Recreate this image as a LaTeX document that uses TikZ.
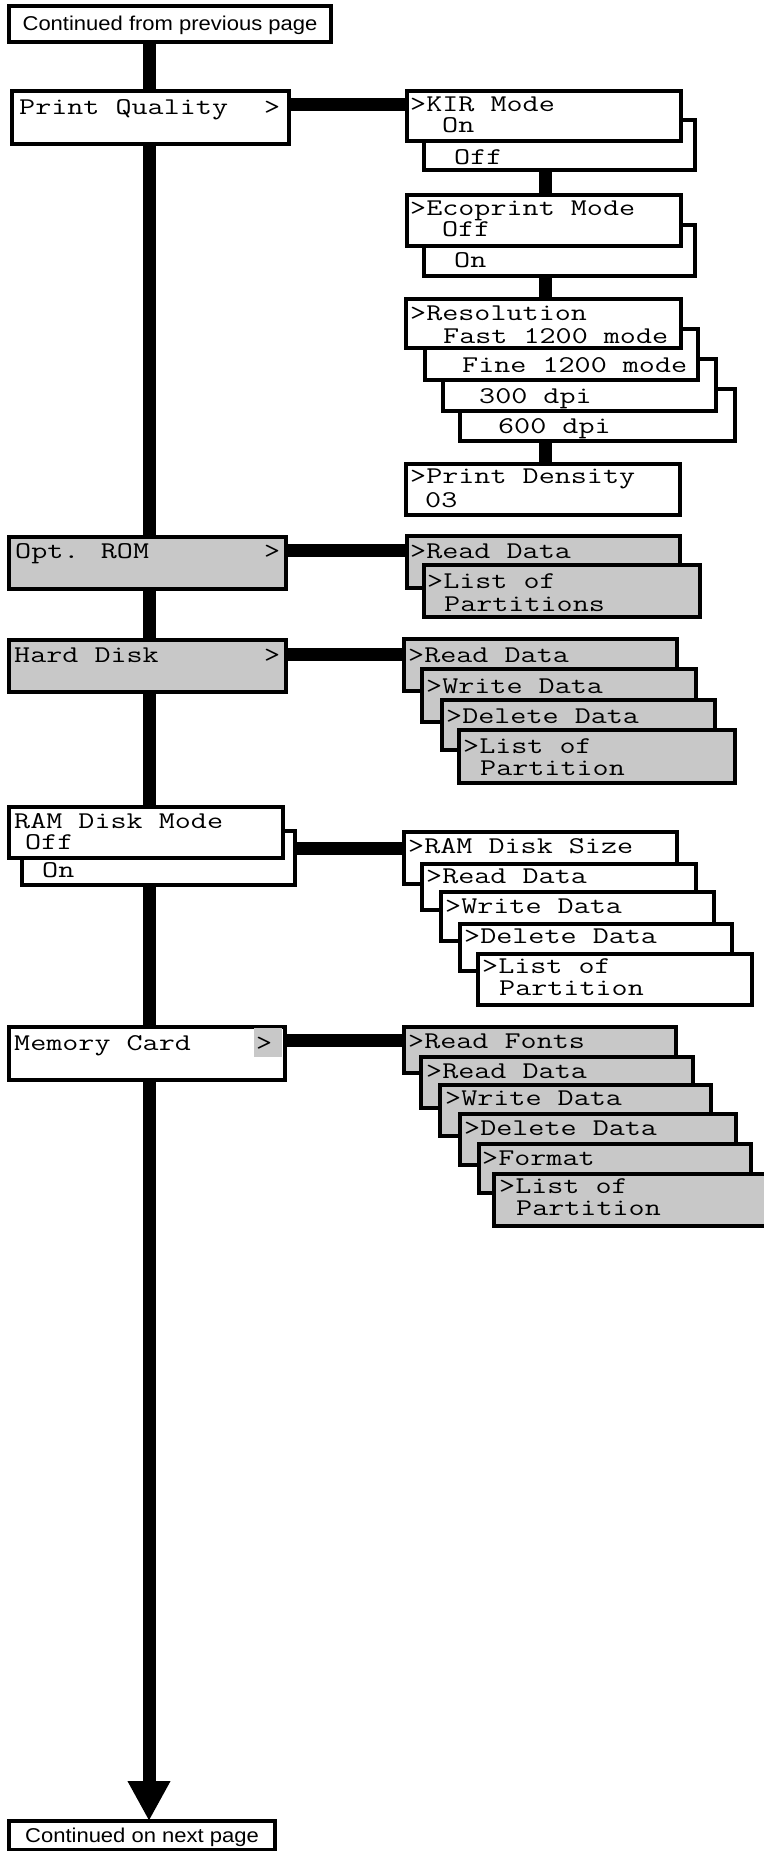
\documentclass[tikz,border=0pt]{standalone}
\usepackage{fontspec}
\usepackage{graphicx}
\usetikzlibrary{arrows.meta}
\newfontfamily\capfont[FakeStretch=1.1]{Liberation Sans}
\definecolor{menugray}{RGB}{200,200,200}
\pgfdeclarelayer{bg}
\pgfsetlayers{bg,main}
\newcommand\mkbox[6]{\node[#6, minimum width={#4-#2-4}, minimum height={#5-#3-4}] (#1) at ({(#2+#4)/2},{(#3+#5)/2}) {};}
\newcommand\mktext[4]{\node[lcd] (#1) at (#2,#3) {\scalebox{1.3}[1]{#4}};}
\newcommand\lcdfont{\ttfamily\fontsize{24}{24}\selectfont}
\begin{document}
\begin{tikzpicture}[x=1pt,y=-1pt,
  bx/.style={draw, line width=4.5pt, fill=white, inner sep=0pt, outer sep=0pt},
  optbx/.style={bx, line width=3.5pt},
  gbx/.style={bx, fill=menugray},
  lcd/.style={anchor=base west, inner sep=0pt, font=\lcdfont},
  captxt/.style={anchor=base, inner sep=0pt, font=\capfont\fontsize{20}{24}\selectfont},
  bar/.style={line width=13pt},
  mainline/.style={line width=13pt, -{Triangle[width=40pt,length=40pt]}}
  ]
\useasboundingbox (0,0) rectangle (763,1851);
% ---------- left column
\mkbox{top}{7}{4}{333}{44}{bx}
\mkbox{bot}{7}{1819}{277}{1852}{bx}
\mkbox{pq}{10}{89}{291}{146}{bx}
\mkbox{rom}{7}{535}{288}{591}{gbx}
\mkbox{hd}{7}{638}{288}{694}{gbx}
\mkbox{ramon}{20}{829}{297}{887}{optbx}
\mkbox{ram}{7}{805}{285}{860}{bx}
\mkbox{mc}{7}{1025}{287}{1082}{bx}
\node[fill=menugray, inner sep=0pt, minimum width=28, minimum height=29] (mcpatch) at (268,1042.5) {};
% ---------- Print Quality stack
\mkbox{kiroff}{422}{118}{697}{172}{optbx}
\mkbox{kir}{405}{89}{683}{143}{bx}
\mkbox{ecoon}{422}{223}{697}{278}{optbx}
\mkbox{eco}{405}{193}{683}{248}{bx}
\mkbox{resg}{458}{387}{737}{443}{optbx}
\mkbox{resd}{441}{357}{718}{413}{optbx}
\mkbox{resfine}{423}{327}{700}{382}{optbx}
\mkbox{res}{404}{297}{683}{350}{bx}
\mkbox{dens}{404}{462}{682}{517}{bx}
% ---------- Opt ROM stack
\mkbox{romrd}{405}{534}{682}{590}{gbx}
\mkbox{romlp}{422}{563}{702}{619}{gbx}
% ---------- Hard Disk stack
\mkbox{hdrd}{402}{637}{679}{693}{gbx}
\mkbox{hdwd}{420}{667}{698}{724}{gbx}
\mkbox{hddd}{440}{698}{717}{752}{gbx}
\mkbox{hdlp}{457}{728}{737}{785}{gbx}
% ---------- RAM Disk stack
\mkbox{ramsz}{402}{830}{679}{886}{bx}
\mkbox{ramrd}{420}{862}{698}{912}{bx}
\mkbox{ramwd}{439}{890}{716}{943}{bx}
\mkbox{ramdd}{458}{922}{734}{973}{bx}
\mkbox{ramlp}{476}{952}{754}{1007}{bx}
% ---------- Memory Card stack
\mkbox{mcrf}{402}{1025}{678}{1075}{gbx}
\mkbox{mcrd}{419}{1055}{695}{1110}{gbx}
\mkbox{mcwd}{438}{1083}{713}{1138}{gbx}
\mkbox{mcdd}{458}{1112}{738}{1167}{gbx}
\mkbox{mcfm}{477}{1142}{753}{1195}{gbx}
\mkbox{mclp}{492}{1172}{778}{1228}{gbx}
% ---------- texts
\node[captxt] (toptx) at (170,31) {Continued from previous page};
\node[captxt] (bottx) at (142,1842) {Continued on next page};
\mktext{pqa}{19}{115}{Print Quality}
\mktext{pqb}{264}{115}{>}
\mktext{roma}{15}{558}{Opt. ROM}
\mktext{romb}{264}{558}{>}
\mktext{hda}{14}{662}{Hard Disk}
\mktext{hdb}{264}{662}{>}
\mktext{rama}{14}{828}{RAM Disk Mode}
\mktext{ramb}{25}{849}{Off}
\mktext{ramc}{42}{877}{On}
\mktext{mca}{14}{1050}{Memory Card}
\mktext{mcb}{256}{1050}{>}
%
\mktext{kira}{410}{112}{>KIR Mode}
\mktext{kirb}{442}{133}{On}
\mktext{kirc}{454}{165}{Off}
\mktext{ecoa}{410}{216}{>Ecoprint Mode}
\mktext{ecob}{442}{237}{Off}
\mktext{ecoc}{454}{268}{On}
\mktext{resa}{410}{320}{>Resolution}
\mktext{resb}{443}{343}{Fast 1200 mode}
\mktext{resc}{462}{372}{Fine 1200 mode}
\mktext{resdt}{479}{403}{300 dpi}
\mktext{reset}{498}{433}{600 dpi}
\mktext{densa}{410}{483}{>Print Density}
\mktext{densb}{425}{507}{03}
%
\mktext{romrdt}{410}{558}{>Read Data}
\mktext{romlpa}{427}{588}{>List of}
\mktext{romlpb}{444}{611}{Partitions}
%
\mktext{hdrdt}{408}{662}{>Read Data}
\mktext{hdwdt}{426}{693}{>Write Data}
\mktext{hdddt}{446}{723}{>Delete Data}
\mktext{hdlpa}{463}{753}{>List of}
\mktext{hdlpb}{480}{775}{Partition}
%
\mktext{ramszt}{408}{853}{>RAM Disk Size}
\mktext{ramrdt}{426}{883}{>Read Data}
\mktext{ramwdt}{445}{913}{>Write Data}
\mktext{ramddt}{464}{943}{>Delete Data}
\mktext{ramlpa}{482}{973}{>List of}
\mktext{ramlpb}{499}{995}{Partition}
%
\mktext{mcrft}{408}{1048}{>Read Fonts}
\mktext{mcrdt}{426}{1078}{>Read Data}
\mktext{mcwdt}{445}{1105}{>Write Data}
\mktext{mcddt}{464}{1135}{>Delete Data}
\mktext{mcfmt}{482}{1165}{>Format}
\mktext{mclpa}{499}{1193}{>List of}
\mktext{mclpb}{516}{1215}{Partition}
% ---------- connectors (behind the boxes)
\coordinate (mx) at (149,0);
\coordinate (vx) at (545,0);
\coordinate (ypq) at (0,104.5);
\coordinate (yrom) at (0,550.5);
\coordinate (yhd) at (0,654);
\coordinate (yram) at (0,848);
\coordinate (ymc) at (0,1040);
\begin{pgfonlayer}{bg}
\fill[white] (0,0) rectangle (763,1851);
\draw[mainline] (top.south -| mx) -- (bot.north -| mx);
\draw[bar] (pq.east |- ypq) -- (kir.west |- ypq);
\draw[bar] (rom.east |- yrom) -- (romrd.west |- yrom);
\draw[bar] (hd.east |- yhd) -- (hdrd.west |- yhd);
\draw[bar] (ramon.east |- yram) -- (ramsz.west |- yram);
\draw[bar] (mc.east |- ymc) -- (mcrf.west |- ymc);
\draw[bar] (kiroff.south -| vx) -- (eco.north -| vx);
\draw[bar] (ecoon.south -| vx) -- (res.north -| vx);
\draw[bar] (resg.south -| vx) -- (dens.north -| vx);
\end{pgfonlayer}
\end{tikzpicture}
\end{document}
